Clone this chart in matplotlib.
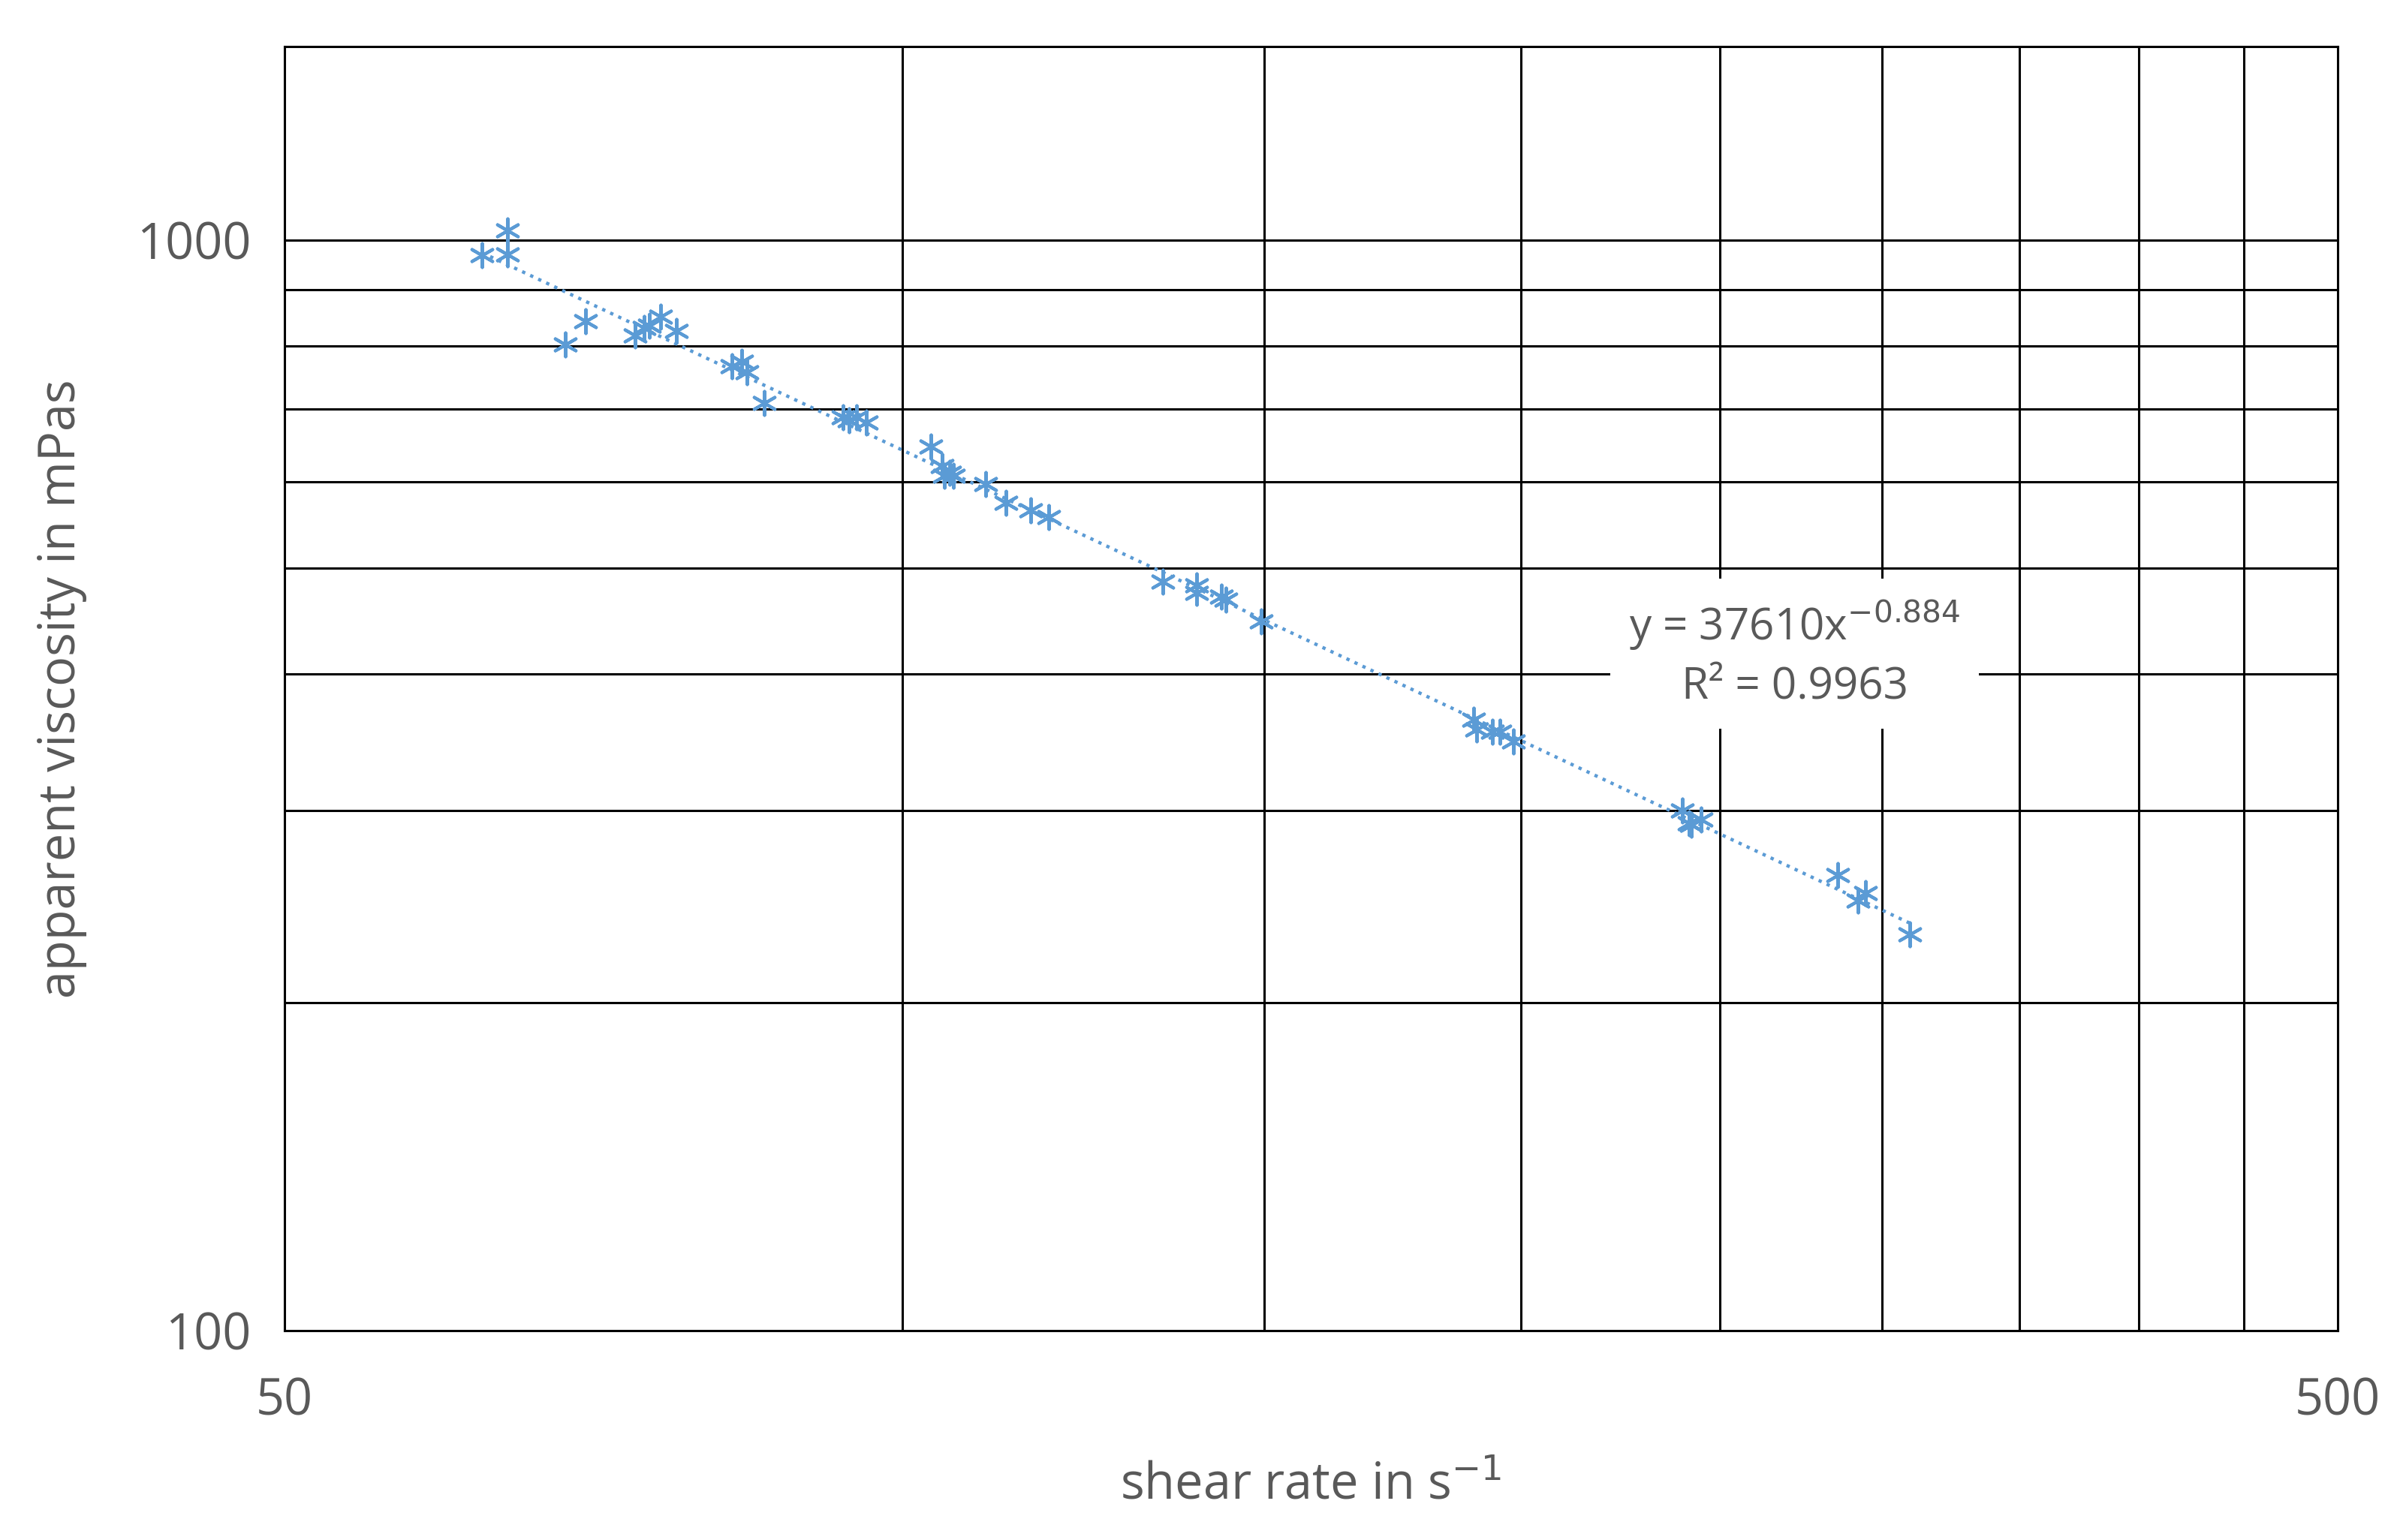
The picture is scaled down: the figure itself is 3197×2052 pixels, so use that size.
import numpy as np
import matplotlib
matplotlib.use('Agg')
import matplotlib.pyplot as plt
from matplotlib.ticker import FixedLocator, NullLocator, FixedFormatter

plt.rcParams['font.family'] = ['Open Sans', 'DejaVu Sans']

# shear rate (1/s) and apparent viscosity (mPas)
shear_rate = [62.4, 64.2, 64.2, 68.5, 70.1, 74.1, 74.8, 75.3, 76.2, 77.6,
              82.6, 83.5, 84.0, 85.6, 93.5, 94.2, 95.0, 96.0, 103.2, 104.5,
              105.4, 105.9, 104.8, 109.8, 112.3, 115.4, 117.8, 133.9, 139.1, 139.1,
              143.0, 143.7, 149.5, 189.7, 190.4, 193.7, 195.4, 198.4, 239.8, 241.5,
              242.3, 244.8, 285.4, 291.9, 294.4, 309.5]
viscosity = [968, 1020, 971, 802, 842, 818, 831, 834, 850, 826,
             766, 774, 756, 709, 688, 684, 688, 680, 647, 621,
             612, 608, 608, 597, 574, 565, 557, 486, 482, 475,
             471, 468, 447, 363, 356, 354, 354, 347, 300, 292,
             291, 294, 261.5, 248, 252, 231]

fit_a, fit_b = 37610, -0.884
blue = '#5B9BD5'
gray = '#595959'

fig = plt.figure(figsize=(15.985, 10.26), dpi=200)
ax = fig.add_axes([0.1186, 0.136, 0.8554, 0.834])
ax.set_xscale('log')
ax.set_yscale('log')
ax.set_xlim(50, 500)
ax.set_ylim(100, 1506)

# grid lines as in the Excel chart
for xv in range(100, 500, 50):
    ax.axvline(xv, color='black', lw=1.1, zorder=1)
for yv in [200, 300, 400, 500, 600, 700, 800, 900, 1000]:
    ax.axhline(yv, color='black', lw=1.1, zorder=1)
for s in ax.spines.values():
    s.set_color('black')
    s.set_linewidth(1.1)

xs = np.array(shear_rate)
xfit = np.linspace(xs.min(), xs.max(), 200)
ax.plot(xfit, fit_a * xfit ** fit_b, ls=':', color=blue, lw=1.6, zorder=3)
ax.scatter(shear_rate, viscosity, marker=(6, 2, 0), s=130, color=blue, lw=1.5, zorder=4)

ax.text(272, 417, 'y = 37610x$^{-0.884}$\nR² = 0.9963', ha='center', va='center',
        fontsize=21, color=gray, linespacing=1.4,
        bbox=dict(facecolor='white', edgecolor='none', pad=9), zorder=5)

ax.xaxis.set_major_locator(FixedLocator([50, 500]))
ax.xaxis.set_major_formatter(FixedFormatter(['50', '500']))
ax.xaxis.set_minor_locator(NullLocator())
ax.yaxis.set_major_locator(FixedLocator([100, 1000]))
ax.yaxis.set_major_formatter(FixedFormatter(['100', '1000']))
ax.yaxis.set_minor_locator(NullLocator())
ax.tick_params(axis='x', length=0, labelsize=24, labelcolor=gray, pad=22)
ax.tick_params(axis='y', length=0, labelsize=24, labelcolor=gray, pad=16)

ax.set_xlabel('shear rate in s$^{-1}$', fontsize=24, color=gray, labelpad=16)
ax.set_ylabel('apparent viscosity in mPas', fontsize=24, color=gray, labelpad=24)

fig.savefig('out.png', dpi=200)
